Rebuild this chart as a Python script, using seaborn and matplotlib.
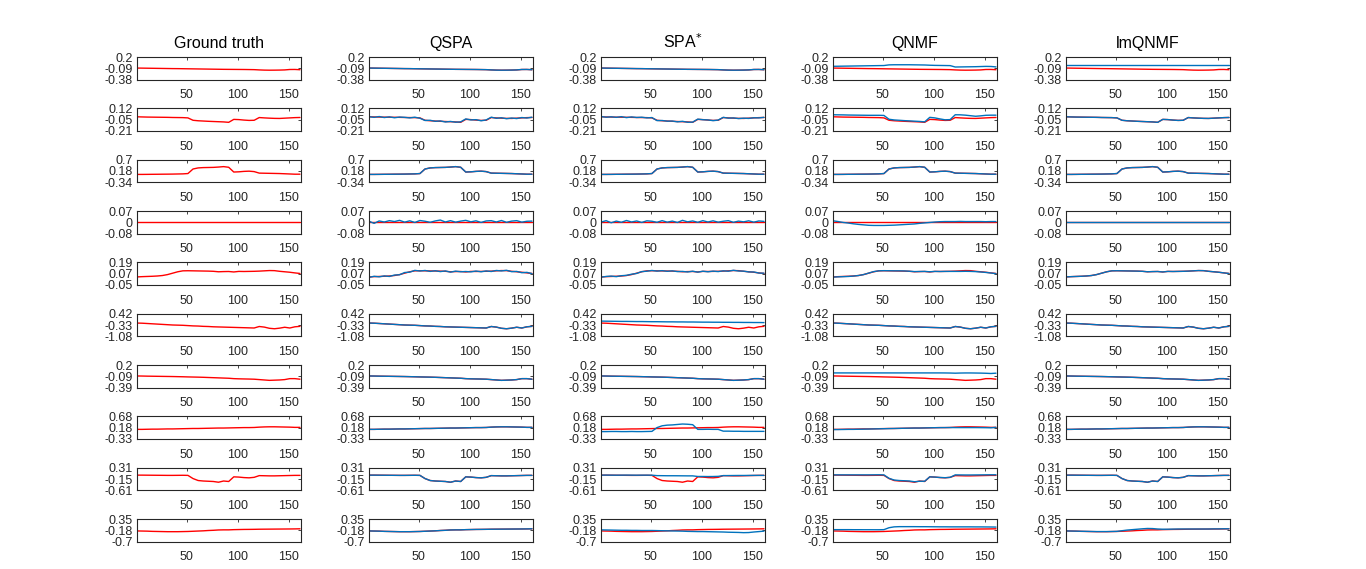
import matplotlib
matplotlib.use("Agg")
import matplotlib.pyplot as plt
import seaborn as sns

bands = [1, 6, 11, 16, 21, 26, 31, 36, 41, 46, 51, 56, 61, 66, 71, 76, 81,
         86, 91, 96, 101, 106, 111, 116, 121, 126, 131, 136, 141, 146, 151,
         156, 161]

methods = ["Ground truth", "QSPA", "SPA$^{*}$", "QNMF", "lmQNMF"]

y_low = [-0.38, -0.21, -0.34, -0.08, -0.05, -1.08, -0.39, -0.33, -0.61, -0.70]
y_high = [0.20, 0.12, 0.70, 0.07, 0.19, 0.42, 0.20, 0.68, 0.31, 0.35]
y_labels = [["-0.38", "-0.09", "0.2"], ["-0.21", "-0.05", "0.12"],
            ["-0.34", "0.18", "0.7"], ["-0.08", "0", "0.07"],
            ["-0.05", "0.07", "0.19"], ["-1.08", "-0.33", "0.42"],
            ["-0.39", "-0.09", "0.2"], ["-0.33", "0.18", "0.68"],
            ["-0.61", "-0.15", "0.31"], ["-0.7", "-0.18", "0.35"]]

# ground truth endmembers (red)
gt1 = [-0.085, -0.087, -0.089, -0.091, -0.093, -0.095, -0.097, -0.099, -0.100, -0.102, -0.104,
       -0.106, -0.108, -0.110, -0.112, -0.114, -0.116, -0.118, -0.119, -0.120, -0.121, -0.122,
       -0.124, -0.126, -0.133, -0.138, -0.140, -0.139, -0.137, -0.133, -0.122, -0.121, -0.128]
gt2 = [-0.004, -0.006, -0.008, -0.009, -0.010, -0.011, -0.012, -0.014, -0.015, -0.016, -0.020,
       -0.055, -0.062, -0.066, -0.070, -0.073, -0.076, -0.079, -0.085, -0.042, -0.045, -0.052,
       -0.057, -0.055, -0.015, -0.020, -0.024, -0.027, -0.028, -0.024, -0.020, -0.016, -0.014]
gt3 = [0.020, 0.020, 0.022, 0.025, 0.027, 0.030, 0.032, 0.035, 0.040, 0.045, 0.060,
       0.270, 0.320, 0.335, 0.340, 0.345, 0.360, 0.380, 0.350, 0.130, 0.140, 0.160,
       0.170, 0.150, 0.080, 0.075, 0.070, 0.065, 0.060, 0.050, 0.040, 0.030, 0.030]
gt4 = [0.000, 0.000, 0.000, 0.000, 0.000, 0.000, 0.000, 0.000, 0.000, 0.000, 0.000,
       0.000, 0.000, 0.000, 0.000, 0.000, 0.000, 0.000, 0.000, 0.000, 0.000, 0.000,
       0.000, 0.000, 0.000, 0.000, 0.000, 0.000, 0.000, 0.000, 0.000, 0.000, 0.000]
gt5 = [0.035, 0.038, 0.040, 0.042, 0.045, 0.050, 0.060, 0.075, 0.090, 0.100, 0.101,
       0.100, 0.099, 0.098, 0.097, 0.095, 0.090, 0.092, 0.093, 0.088, 0.094, 0.093,
       0.094, 0.095, 0.097, 0.100, 0.103, 0.102, 0.095, 0.090, 0.085, 0.078, 0.072]
gt6 = [-0.20, -0.21, -0.23, -0.25, -0.27, -0.29, -0.31, -0.33, -0.34, -0.35, -0.37,
       -0.39, -0.40, -0.42, -0.43, -0.45, -0.46, -0.47, -0.48, -0.49, -0.50, -0.51,
       -0.52, -0.53, -0.43, -0.47, -0.55, -0.58, -0.54, -0.48, -0.53, -0.45, -0.42]
gt7 = [-0.085, -0.087, -0.090, -0.092, -0.094, -0.096, -0.098, -0.100, -0.103, -0.106, -0.110,
       -0.113, -0.116, -0.120, -0.125, -0.130, -0.135, -0.140, -0.145, -0.155, -0.160, -0.163,
       -0.166, -0.170, -0.180, -0.190, -0.200, -0.195, -0.190, -0.180, -0.155, -0.155, -0.170]
gt8 = [0.100, 0.100, 0.105, 0.110, 0.110, 0.115, 0.120, 0.120, 0.125, 0.130, 0.135,
       0.140, 0.140, 0.145, 0.150, 0.155, 0.160, 0.160, 0.165, 0.170, 0.175, 0.180,
       0.180, 0.185, 0.200, 0.210, 0.215, 0.215, 0.210, 0.205, 0.200, 0.190, 0.190]
gt9 = [0.010, 0.010, 0.008, 0.006, 0.004, 0.002, 0.000, 0.000, 0.002, 0.004, 0.000,
       -0.130, -0.210, -0.230, -0.240, -0.250, -0.280, -0.230, -0.250, -0.060, -0.070, -0.090,
       -0.100, -0.080, -0.010, -0.015, -0.020, -0.020, -0.015, -0.010, -0.005, 0.000, 0.000]
gt10 = [-0.200, -0.205, -0.210, -0.220, -0.225, -0.230, -0.235, -0.235, -0.235, -0.230, -0.225,
        -0.215, -0.205, -0.195, -0.180, -0.170, -0.155, -0.150, -0.150, -0.140, -0.135, -0.130,
        -0.128, -0.125, -0.120, -0.118, -0.116, -0.114, -0.112, -0.110, -0.108, -0.105, -0.100]

# estimated endmembers (blue) that differ visibly from the ground truth
qspa2 = [-0.002, -0.012, 0.000, -0.015, -0.005, -0.018, -0.008, -0.012, -0.020, -0.010, -0.025,
         -0.058, -0.055, -0.070, -0.064, -0.080, -0.072, -0.083, -0.078, -0.035, -0.050, -0.046,
         -0.062, -0.050, -0.010, -0.026, -0.018, -0.032, -0.022, -0.030, -0.015, -0.022, -0.010]
qspa4 = [0.002, -0.012, 0.004, -0.003, 0.006, 0.000, 0.008, -0.004, 0.005, -0.006, 0.007,
         0.002, -0.005, 0.004, 0.010, -0.003, 0.006, -0.004, 0.003, 0.008, -0.002, 0.005,
         -0.006, 0.004, 0.006, -0.003, 0.007, -0.005, 0.003, 0.006, -0.004, 0.002, 0.003]
qspa5 = [0.030, 0.042, 0.036, 0.046, 0.040, 0.055, 0.058, 0.082, 0.086, 0.105, 0.098,
         0.104, 0.094, 0.101, 0.092, 0.099, 0.086, 0.097, 0.090, 0.093, 0.089, 0.098,
         0.090, 0.099, 0.093, 0.104, 0.099, 0.106, 0.091, 0.094, 0.080, 0.084, 0.070]

spa2 = [0.000, -0.010, -0.004, -0.012, -0.002, -0.016, -0.006, -0.014, -0.010, -0.020, -0.015,
        -0.060, -0.058, -0.068, -0.066, -0.078, -0.070, -0.084, -0.082, -0.038, -0.047, -0.050,
        -0.060, -0.052, -0.012, -0.024, -0.020, -0.030, -0.024, -0.028, -0.018, -0.020, -0.012]
spa4 = [-0.004, 0.006, -0.008, 0.003, -0.005, 0.007, -0.003, 0.004, -0.006, 0.005, 0.002,
        -0.005, 0.006, -0.004, 0.003, -0.006, 0.008, -0.002, 0.004, -0.005, 0.006, -0.003,
        0.005, -0.004, 0.002, 0.006, -0.005, 0.003, -0.002, 0.005, -0.004, 0.004, 0.001]
spa5 = [0.032, 0.040, 0.044, 0.038, 0.048, 0.052, 0.064, 0.072, 0.092, 0.096, 0.104,
        0.097, 0.102, 0.095, 0.100, 0.092, 0.094, 0.088, 0.096, 0.086, 0.096, 0.090,
        0.097, 0.092, 0.100, 0.096, 0.106, 0.098, 0.097, 0.088, 0.088, 0.076, 0.075]
spa6 = [-0.070, -0.075, -0.080, -0.085, -0.090, -0.090, -0.095, -0.100, -0.100, -0.105, -0.110,
        -0.110, -0.115, -0.120, -0.120, -0.125, -0.125, -0.130, -0.130, -0.135, -0.140, -0.140,
        -0.145, -0.145, -0.150, -0.150, -0.155, -0.155, -0.160, -0.160, -0.165, -0.165, -0.170]
spa8 = [0.000, 0.000, 0.005, 0.005, 0.000, 0.000, 0.005, 0.000, 0.000, 0.005, 0.010,
        0.180, 0.260, 0.290, 0.300, 0.320, 0.340, 0.330, 0.310, 0.100, 0.100, 0.105,
        0.100, 0.100, 0.020, 0.020, 0.015, 0.015, 0.010, 0.010, 0.010, 0.010, 0.010]
spa9 = [0.010, 0.012, 0.010, 0.008, 0.010, 0.012, 0.010, 0.008, 0.010, 0.010, 0.008,
        -0.010, -0.012, -0.015, -0.015, -0.016, -0.018, -0.020, -0.020, -0.045, -0.045, -0.048,
        -0.046, -0.040, -0.010, -0.008, -0.006, -0.004, -0.004, -0.002, 0.000, 0.000, 0.000]
spa10 = [-0.150, -0.155, -0.160, -0.165, -0.170, -0.170, -0.175, -0.175, -0.180, -0.180, -0.180,
         -0.185, -0.190, -0.195, -0.200, -0.205, -0.210, -0.220, -0.225, -0.230, -0.230, -0.235,
         -0.240, -0.245, -0.250, -0.260, -0.265, -0.270, -0.280, -0.275, -0.250, -0.230, -0.210]

qnmf1 = [-0.040, -0.038, -0.036, -0.034, -0.032, -0.030, -0.028, -0.026, -0.024, -0.022, -0.020,
         -0.003, 0.000, 0.000, 0.000, 0.000, -0.002, -0.004, -0.006, -0.012, -0.016, -0.018,
         -0.020, -0.022, -0.058, -0.056, -0.054, -0.052, -0.050, -0.046, -0.042, -0.044, -0.055]
qnmf2 = [0.026, 0.025, 0.024, 0.022, 0.021, 0.020, 0.019, 0.018, 0.018, 0.018, 0.016,
         -0.040, -0.050, -0.055, -0.060, -0.064, -0.068, -0.072, -0.078, -0.012, -0.020, -0.035,
         -0.048, -0.045, 0.026, 0.025, 0.020, 0.012, 0.004, 0.010, 0.018, 0.020, 0.020]
qnmf4 = [0.005, 0.000, -0.006, -0.010, -0.015, -0.019, -0.022, -0.025, -0.026, -0.026, -0.026,
         -0.025, -0.024, -0.022, -0.020, -0.018, -0.016, -0.012, -0.009, -0.006, -0.003, -0.001,
         0.000, 0.000, 0.000, 0.001, 0.000, 0.000, 0.000, 0.000, -0.001, 0.000, 0.000]
qnmf5 = [0.033, 0.036, 0.038, 0.040, 0.044, 0.050, 0.060, 0.076, 0.092, 0.100, 0.102,
         0.101, 0.100, 0.100, 0.099, 0.096, 0.092, 0.093, 0.094, 0.090, 0.094, 0.093,
         0.094, 0.094, 0.094, 0.094, 0.095, 0.094, 0.092, 0.088, 0.083, 0.077, 0.070]
qnmf7 = [-0.005, -0.005, -0.005, -0.005, -0.005, -0.005, -0.005, -0.005, -0.005, -0.005, -0.005,
         -0.005, -0.005, -0.005, -0.005, -0.005, -0.005, -0.005, -0.005, -0.005, -0.005, -0.005,
         -0.006, -0.008, -0.012, -0.008, -0.006, -0.006, -0.008, -0.010, -0.014, -0.020, -0.012]
qnmf8 = [0.090, 0.092, 0.095, 0.100, 0.100, 0.105, 0.110, 0.115, 0.120, 0.125, 0.130,
         0.135, 0.140, 0.145, 0.150, 0.155, 0.160, 0.160, 0.165, 0.170, 0.175, 0.178,
         0.180, 0.182, 0.180, 0.180, 0.180, 0.180, 0.180, 0.178, 0.175, 0.170, 0.190]
qnmf9 = [0.020, 0.020, 0.020, 0.020, 0.020, 0.020, 0.020, 0.020, 0.022, 0.024, 0.020,
         -0.120, -0.190, -0.210, -0.220, -0.230, -0.260, -0.240, -0.240, -0.060, -0.070, -0.085,
         -0.095, -0.080, 0.020, 0.018, 0.016, 0.016, 0.018, 0.020, 0.022, 0.024, 0.024]
qnmf10 = [-0.140, -0.140, -0.140, -0.140, -0.142, -0.142, -0.144, -0.144, -0.145, -0.145, -0.140,
          -0.050, -0.010, 0.000, 0.000, 0.000, 0.000, -0.002, -0.002, -0.004, -0.006, -0.008,
          -0.008, -0.010, -0.010, -0.010, -0.010, -0.010, -0.012, -0.012, -0.014, -0.016, -0.020]

lmq1 = [-0.005, -0.005, -0.005, -0.005, -0.005, -0.005, -0.005, -0.005, -0.005, -0.005, -0.005,
        -0.005, -0.005, -0.005, -0.005, -0.005, -0.005, -0.005, -0.005, -0.005, -0.005, -0.005,
        -0.005, -0.005, -0.005, -0.005, -0.005, -0.005, -0.005, -0.005, -0.005, -0.005, -0.005]
lmq10 = [-0.200, -0.205, -0.210, -0.215, -0.220, -0.225, -0.230, -0.230, -0.230, -0.225, -0.220,
         -0.190, -0.160, -0.140, -0.120, -0.100, -0.085, -0.090, -0.110, -0.120, -0.120, -0.115,
         -0.110, -0.110, -0.110, -0.110, -0.110, -0.110, -0.110, -0.105, -0.105, -0.100, -0.100]

truth = [gt1, gt2, gt3, gt4, gt5, gt6, gt7, gt8, gt9, gt10]
estimates = {
    "QSPA": [gt1, qspa2, gt3, qspa4, qspa5, gt6, gt7, gt8, gt9, gt10],
    "SPA$^{*}$": [gt1, spa2, gt3, spa4, spa5, spa6, gt7, spa8, spa9, spa10],
    "QNMF": [qnmf1, qnmf2, gt3, qnmf4, qnmf5, gt6, qnmf7, qnmf8, qnmf9, qnmf10],
    "lmQNMF": [lmq1, gt2, gt3, gt4, gt5, gt6, gt7, gt8, gt9, lmq10],
}

sns.set_style("white")
plt.rcParams['font.family'] = ['Liberation Sans', 'DejaVu Sans']
ink = "#262626"

W, H = 1366, 569
fig = plt.figure(figsize=(W / 100, H / 100), dpi=100)

col_left = [137, 369, 601, 833, 1066]
ax_w = 164
ax_h = 22.5
row_top0 = 57
row_step = 51.35

for c, name in enumerate(methods):
    for r in range(10):
        top = row_top0 + r * row_step
        ax = fig.add_axes([col_left[c] / W, 1 - (top + ax_h) / H, ax_w / W, ax_h / H])
        sns.lineplot(x=bands, y=truth[r], color="#FF0000", lw=1.0, ax=ax)
        if c > 0:
            sns.lineplot(x=bands, y=estimates[name][r], color="#0072BD", lw=1.0, ax=ax)
        ax.set_xlim(1, 162)
        ax.set_ylim(y_low[r], y_high[r])
        ax.set_xticks([50, 100, 150])
        ax.set_yticks([y_low[r], (y_low[r] + y_high[r]) / 2, y_high[r]])
        ax.set_yticklabels(y_labels[r])
        ax.set_xlabel("")
        ax.set_ylabel("")
        ax.tick_params(direction="in", top=True, right=True, length=2.5, width=0.6,
                       colors=ink, labelsize=9)
        ax.tick_params(axis="x", pad=7)
        ax.tick_params(axis="y", pad=3)
        for s in ax.spines.values():
            s.set_color(ink)
            s.set_linewidth(0.8)
        if r == 0:
            ax.set_title(name, fontsize=11.5, color="black", pad=6.5)

fig.savefig("out.png", dpi=100)
